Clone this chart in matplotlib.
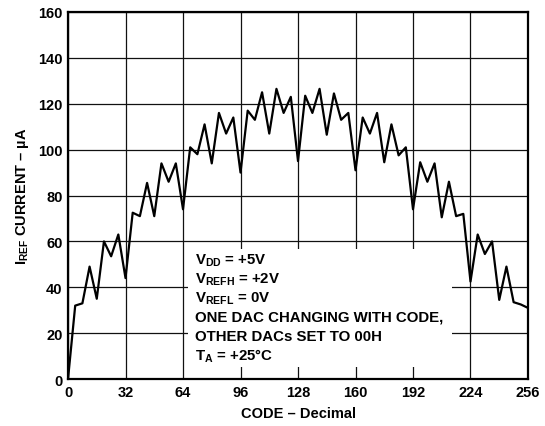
import numpy as np
import matplotlib
matplotlib.use('Agg')
import matplotlib.pyplot as plt
from matplotlib.patches import Rectangle

plt.rcParams['font.family'] = 'Liberation Sans'
plt.rcParams['font.weight'] = 'bold'
plt.rcParams['mathtext.fontset'] = 'custom'
plt.rcParams['mathtext.rm'] = 'Liberation Sans:bold'
plt.rcParams['mathtext.it'] = 'Liberation Sans:bold'
plt.rcParams['mathtext.bf'] = 'Liberation Sans:bold'

# Reference current vs. code (one point every 4 codes)
codes = [0, 4, 8, 12, 16, 20, 24, 28, 32, 36, 40, 44, 48, 52, 56, 60,
         64, 68, 72, 76, 80, 84, 88, 92, 96, 100, 104, 108, 112, 116, 120, 124,
         128, 132, 136, 140, 144, 148, 152, 156, 160, 164, 168, 172, 176, 180, 184, 188,
         192, 196, 200, 204, 208, 212, 216, 220, 224, 228, 232, 236, 240, 244, 248, 252,
         256]
iref = [0, 32, 33, 49, 35, 60, 53.5, 63, 44, 72.5, 71, 85.5, 71, 94, 86, 94,
        74, 101, 98, 111, 94, 116, 107, 114, 90, 117, 113, 125, 107, 126.5, 116, 123,
        95, 123.5, 116, 126.5, 106.5, 124.5, 113, 116, 91, 114, 107, 116, 94.5, 111, 97.5, 101,
        74, 94.5, 86, 94, 70.5, 86, 71, 72, 42.5, 63, 54.5, 60, 34.5, 49, 33.5, 32.5,
        31]

xticks = [0, 32, 64, 96, 128, 160, 192, 224, 256]
yticks = [0, 20, 40, 60, 80, 100, 120, 140, 160]

conditions = [
    r'V$_{\mathrm{DD}}$ = +5V',
    r'V$_{\mathrm{REFH}}$ = +2V',
    r'V$_{\mathrm{REFL}}$ = 0V',
    'ONE DAC CHANGING WITH CODE,',
    'OTHER DACs SET TO 00H',
    r'T$_{\mathrm{A}}$ = +25°C',
]

fig = plt.figure(figsize=(5.45, 4.27), dpi=100)
ax = fig.add_axes([0.1248, 0.110, 0.8440, 0.8596])

ax.plot(codes, iref, color='black', linewidth=1.6, zorder=4)

ax.set_xlim(0, 256)
ax.set_ylim(0, 160)
ax.set_xticks(xticks)
ax.set_yticks(yticks)
ax.tick_params(length=0, pad=4, labelsize=10.5)
for lab in ax.get_xticklabels() + ax.get_yticklabels():
    lab.set_fontweight('bold')
ax.grid(True, color='#111111', linewidth=0.9)
ax.set_axisbelow(True)
for sp in ax.spines.values():
    sp.set_linewidth(1.6)
    sp.set_zorder(5)

# white box behind the test conditions
ax.add_patch(Rectangle((67, 5.2), 146.5, 51.5, facecolor='white',
                       edgecolor='none', zorder=2))
y0 = 52
for i, line in enumerate(conditions):
    ax.text(70.5, y0 - i * 8.3, line, fontsize=10.8, fontweight='bold',
            va='center', ha='left', zorder=3)

ax.set_xlabel('CODE – Decimal', fontsize=10.5, fontweight='bold', labelpad=5)
ax.set_ylabel(r'I$_{\mathrm{REF}}$ CURRENT – µA', fontsize=10.5,
              fontweight='bold', labelpad=5)

fig.savefig('out.png', dpi=100)
